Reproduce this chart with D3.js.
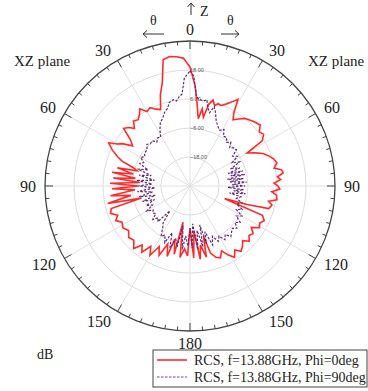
<!DOCTYPE html>
<html>
<head>
<meta charset="utf-8">
<script src="https://cdn.jsdelivr.net/npm/d3@7"></script>
<style>
  body { margin: 0; background: #fff; }
  text { font-family: "Liberation Serif", "DejaVu Serif", serif; fill: #222; }
</style>
</head>
<body>
<svg id="chart" width="368" height="391"></svg>
<script>
// theta in degrees, clockwise from +Z (top); values in dB
const thetaRed = [0,3,5,7,9,11,13,15,17,19,21,24,27,29,31,33,36,39,42,45,49,52,55,58,60,63,66,69,72,75,78,80,82,84,86,88,90,92,94,96,99,101,103,106,108,110,112,115,118,121,124,127,130,133,136,139,142,145,148,151,154,157,160,163,165,167,170,172,175,177,180,182,185,188,191,193,196,198,201,204,207,210,213,216,219,222,226,230,234,238,242,245,248,251,254,256,258,261,263,266,268,270,272,274,276,278,280,282,284,286,288,290,292,295,298,300,302,305,308,311,314,316,319,322,325,327,330,333,336,339,342,345,348,351,354,357];
const rcsPhi0 = [19.2,11.4,3.9,-1.9,2.3,-1.0,4.8,6.8,4.8,6.0,5.6,7.2,9.3,11.0,5.2,2.7,4.3,6.0,6.8,7.6,8.5,6.4,7.2,5.2,-2.7,0.2,3.1,4.8,6.4,7.2,5.6,8.5,8.9,6.4,7.6,4.8,6.4,7.2,3.9,6.0,6.4,3.1,4.8,3.9,-5.2,-14.7,2.3,3.9,2.7,3.5,0.6,2.7,1.9,3.5,1.4,3.1,4.3,2.3,4.8,2.7,-0.2,2.3,1.4,-1.0,-8.5,0.2,-5.2,0.6,-11.4,-0.2,-12.6,-1.0,-3.9,-0.2,-14.7,-1.0,-7.2,0.6,-4.3,1.4,-1.9,3.1,-0.2,3.9,1.4,4.8,2.3,3.1,1.4,2.7,1.9,3.9,2.3,4.8,3.9,-9.3,4.8,-5.2,3.1,-7.2,2.3,-8.5,3.1,-9.3,1.9,-7.2,2.7,-6.0,1.0,-7.2,-5.2,-0.2,2.3,5.6,8.1,4.8,3.1,-1.0,1.4,6.4,4.8,3.1,5.6,4.8,6.4,8.1,5.6,6.4,4.8,3.9,9.7,14.3,23.4,24.2,23.8,23.0];

const thetaPurple = [0,2,4,6,9,11,13,15,17,19,22,25,28,31,34,37,40,43,46,49,52,55,58,61,64,67,70,72,74,76,78,80,82,84,86,88,90,92,94,96,98,100,102,105,108,111,114,117,120,123,126,129,132,135,138,141,144,147,150,153,156,159,162,164,166,168,171,173,176,178,180,182,185,187,190,192,195,198,201,204,207,210,213,216,219,222,225,228,231,234,237,240,243,246,249,252,255,258,261,264,267,270,273,276,279,282,285,288,291,294,297,300,303,306,310,314,317,320,323,326,329,332,335,338,341,344,346,349,351,353,355,357];
const rcsPhi90 = [17.6,15.5,7.2,6.0,5.6,6.4,3.1,1.4,4.3,2.3,-1.0,-2.7,-3.9,-2.7,-5.2,-4.8,-6.4,-5.2,-7.2,-6.0,-5.6,-8.5,-6.8,-10.1,-7.2,-11.4,-8.1,-13.4,-7.2,-12.6,-6.8,-14.3,-7.7,-13.4,-6.4,-12.6,-7.2,-14.3,-7.7,-11.8,-6.8,-13.4,-8.5,-10.1,-7.2,-9.3,-6.4,-8.5,-5.2,-7.2,-4.3,-6.0,-3.9,-5.2,-4.3,-3.1,-5.2,-3.5,-6.0,-4.3,-7.2,-3.9,-10.1,-5.2,-13.4,-4.3,-11.4,-3.5,-14.3,-4.3,-12.6,-5.2,-9.3,-3.5,-13.4,-4.3,-7.2,-3.1,-9.3,-4.3,-7.2,-6.0,-9.3,-11.0,-16.8,-10.1,-11.4,-9.3,-11.8,-11.0,-11.8,-9.3,-12.6,-10.1,-14.3,-9.3,-15.1,-8.5,-14.3,-8.1,-15.5,-8.5,-14.3,-7.7,-15.1,-8.5,-13.4,-7.2,-11.4,-7.2,-8.5,-6.4,-7.7,-6.8,-6.8,-5.2,-6.0,-5.6,-7.2,-6.0,-6.4,-3.5,-1.0,0.2,2.3,3.5,5.6,6.4,5.6,7.2,8.1,14.7];

const ringValues = [-18, -6, 6, 18];
const angleLabels = [0, 30, 60, 90, 120, 150, 180, 150, 120, 90, 60, 30];
const legendNames = ['RCS, f=13.88GHz, Phi=0deg', 'RCS, f=13.88GHz, Phi=90deg'];

const svg = d3.select('#chart');
const cx = 190, cy = 186, R = 145;
const rad = Math.PI / 180;

const r = d3.scaleLinear().domain([-30, 30]).range([0, R]);

const g = svg.append('g').attr('transform', `translate(${cx},${cy})`);

// grid rings and spokes
g.selectAll('circle.ring').data(ringValues).enter().append('circle')
  .attr('r', d => r(d)).attr('fill', 'none')
  .attr('stroke', '#dcdcdc').attr('stroke-width', 1);

g.selectAll('line.spoke').data(d3.range(0, 360, 30)).enter().append('line')
  .attr('x1', 0).attr('y1', 0)
  .attr('x2', d => R * Math.sin(d * rad))
  .attr('y2', d => -R * Math.cos(d * rad))
  .attr('stroke', '#e0e0e0').attr('stroke-width', 1);

// ring labels
g.selectAll('text.rl').data(ringValues).enter().append('text')
  .attr('x', 0).attr('y', d => -r(d) + 2)
  .style('font-family', 'Arial, sans-serif').style('font-size', '5.5px')
  .style('fill', '#555')
  .text(d => d3.format('.2f')(d));

// curves
const line = d3.lineRadial()
  .angle(d => d[0] * rad)
  .radius(d => r(d[1]))
  .curve(d3.curveLinearClosed);

g.append('path')
  .datum(d3.zip(thetaRed, rcsPhi0))
  .attr('d', line)
  .attr('fill', 'none').attr('stroke', '#ff2a2a').attr('stroke-width', 1.6);

g.append('path')
  .datum(d3.zip(thetaPurple, rcsPhi90))
  .attr('d', line)
  .attr('fill', 'none').attr('stroke', '#5e2a78').attr('stroke-width', 1.2)
  .attr('stroke-dasharray', '2.5,1.5');

// outer circle + ticks
g.append('circle').attr('r', R).attr('fill', 'none')
  .attr('stroke', '#444').attr('stroke-width', 1.3);

g.selectAll('line.tick').data(d3.range(0, 360, 5)).enter().append('line')
  .attr('x1', d => R * Math.sin(d * rad))
  .attr('y1', d => -R * Math.cos(d * rad))
  .attr('x2', d => (R - (d % 30 === 0 ? 8 : 4)) * Math.sin(d * rad))
  .attr('y2', d => -(R - (d % 30 === 0 ? 8 : 4)) * Math.cos(d * rad))
  .attr('stroke', '#444').attr('stroke-width', 1);

// angle labels
g.selectAll('text.al').data(angleLabels).enter().append('text')
  .each(function(d, i) {
    const a = i * 30 * rad;
    const s = Math.sin(a), c = Math.cos(a);
    const t = d3.select(this).style('font-size', '16px').text(d);
    let anchor = 'middle', x = 0;
    if (Math.abs(s) > 0.01) {
      anchor = s > 0 ? 'start' : 'end';
      x = s * 150 + (s > 0 ? 4 : -4);
    }
    t.attr('text-anchor', anchor).attr('x', x).attr('y', -c * 157 + 5.5);
  });

// annotations
svg.append('text').attr('x', 14).attr('y', 66).style('font-size', '15px').text('XZ plane');
svg.append('text').attr('x', 308).attr('y', 66).style('font-size', '15px').text('XZ plane');
svg.append('text').attr('x', 150).attr('y', 25).style('font-size', '14px').text('θ');
svg.append('text').attr('x', 227).attr('y', 25).style('font-size', '14px').text('θ');
svg.append('text').attr('x', 200).attr('y', 16).style('font-size', '14px').text('Z');
svg.append('text').attr('x', 37).attr('y', 359).style('font-size', '14px').text('dB');

const arrow = svg.append('g').attr('fill', 'none').attr('stroke', '#333').attr('stroke-width', 1);
arrow.append('path').attr('d', 'M191,15V3M187.5,7L191,3L194.5,7');
arrow.append('path').attr('d', 'M164,34H143M147,30.5L143,34L147,37.5');
arrow.append('path').attr('d', 'M221,34H239M235,30.5L239,34L235,37.5');

// legend
const leg = svg.append('g').attr('transform', 'translate(153,350)');
leg.append('rect').attr('width', 214).attr('height', 37)
  .attr('fill', '#fff').attr('stroke', '#444').attr('stroke-width', 1);
const styles = [
  { stroke: '#ff2a2a', dash: null, w: 1.6 },
  { stroke: '#7a35b0', dash: '2.5,1.5', w: 1.2 }
];
legendNames.forEach((name, i) => {
  const y = 10 + i * 17;
  leg.append('line').attr('x1', 4).attr('x2', 34).attr('y1', y).attr('y2', y)
    .attr('stroke', styles[i].stroke).attr('stroke-width', styles[i].w)
    .attr('stroke-dasharray', styles[i].dash);
  leg.append('text').attr('x', 41).attr('y', y + 5).style('font-size', '14px').text(name);
});
</script>
</body>
</html>
